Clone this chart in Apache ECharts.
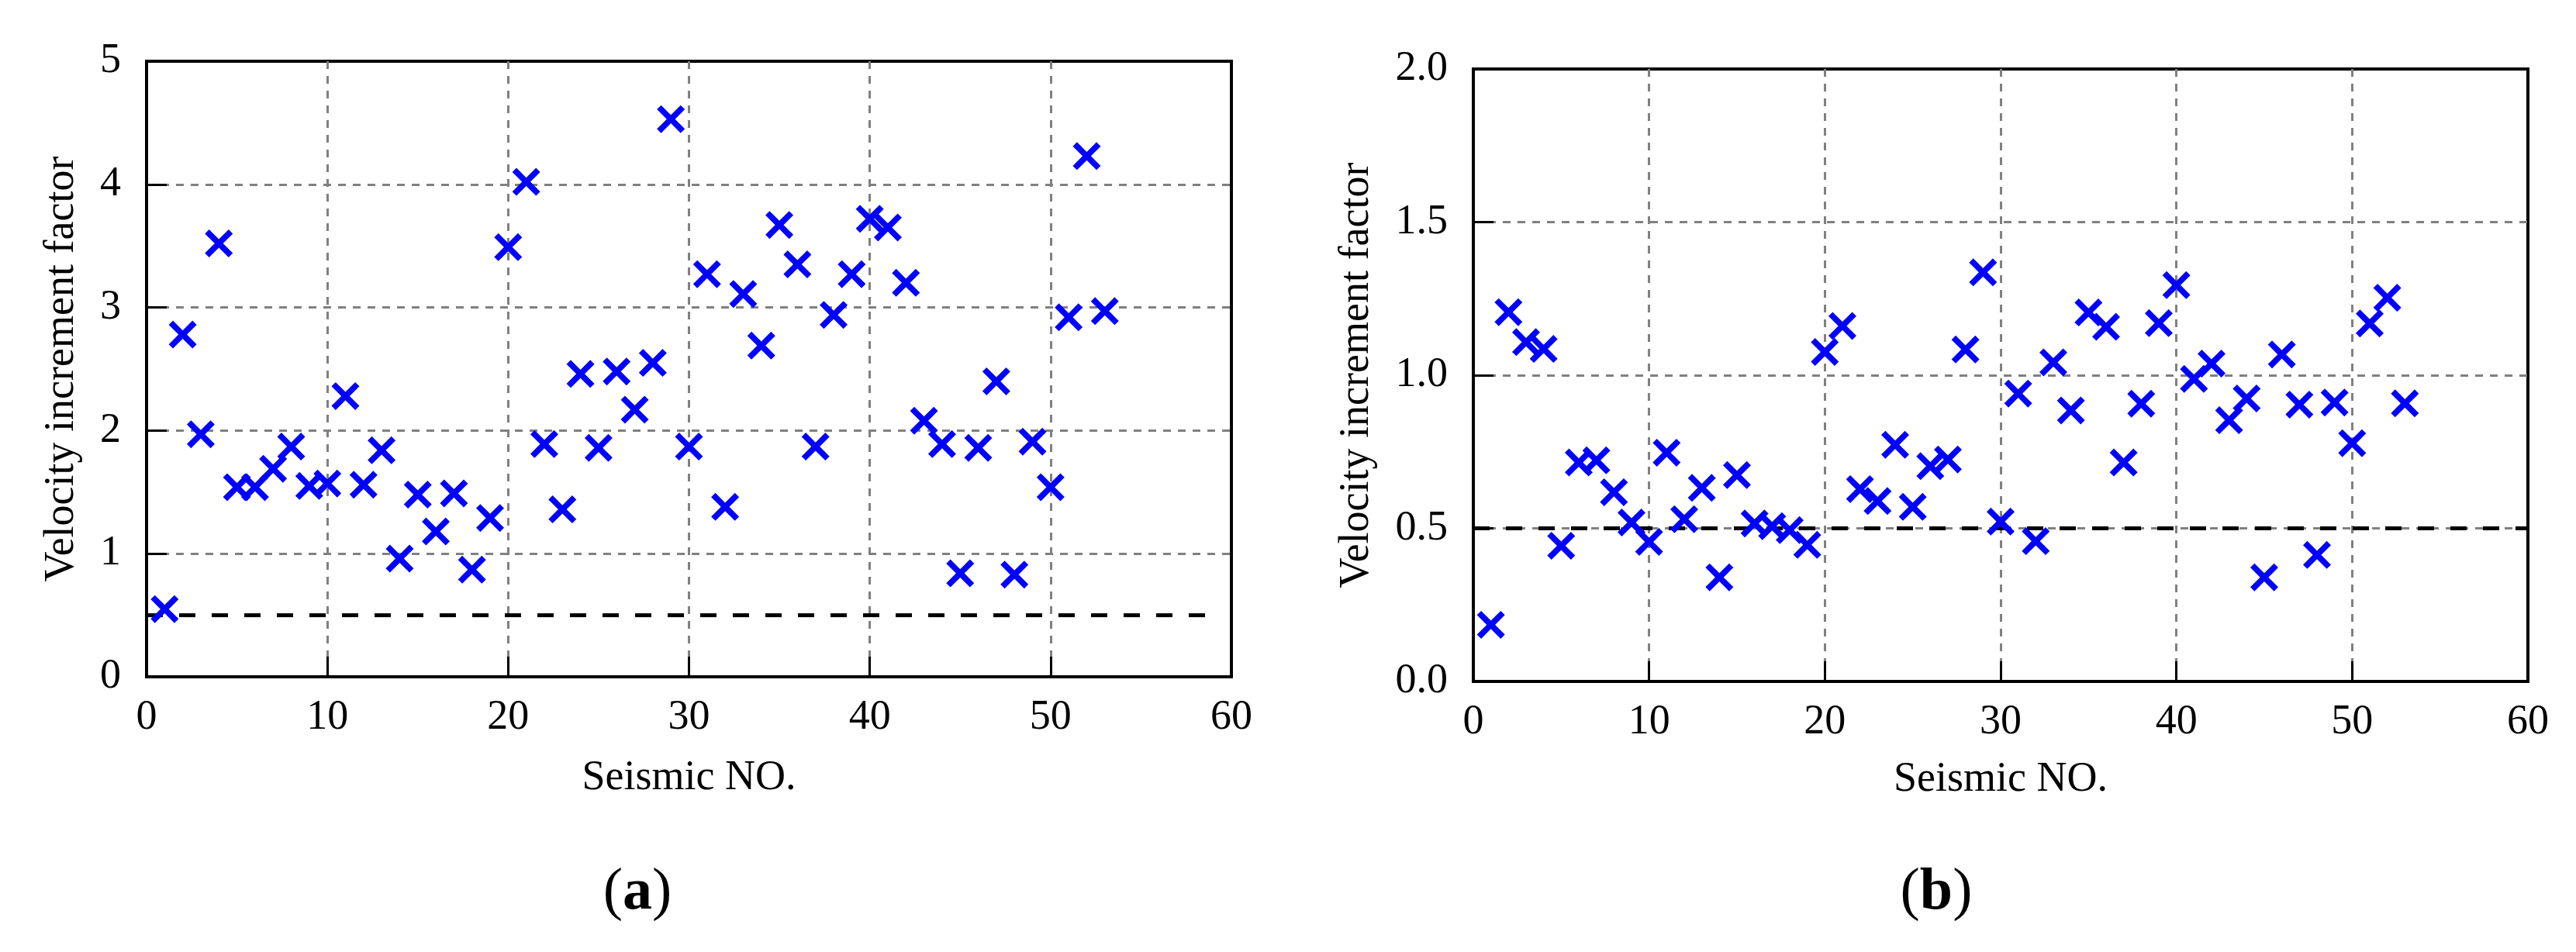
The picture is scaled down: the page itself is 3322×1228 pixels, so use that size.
<!DOCTYPE html>
<html>
<head>
<meta charset="utf-8" />
<style>
    html, body { margin: 0; padding: 0; background: #fff; }
    #chart { width: 3322px; height: 1228px; }
</style>
<script src="https://cdn.jsdelivr.net/npm/echarts@6/dist/echarts.min.js"></script>
</head>
<body>
<div id="chart"></div>
<script type="text/javascript">
    // seismic record numbers (x) and the two velocity increment factor sets (y)
    var seismicNo = [1, 2, 3, 4, 5, 6, 7, 8, 9, 10,
        11, 12, 13, 14, 15, 16, 17, 18, 19, 20,
        21, 22, 23, 24, 25, 26, 27, 28, 29, 30,
        31, 32, 33, 34, 35, 36, 37, 38, 39, 40,
        41, 42, 43, 44, 45, 46, 47, 48, 49, 50,
        51, 52, 53];
    var factorA = [0.55, 2.78, 1.97, 3.52, 1.54, 1.54, 1.69, 1.87, 1.55, 1.57,
        2.28, 1.56, 1.84, 0.96, 1.48, 1.18, 1.49, 0.87, 1.29, 3.49,
        4.02, 1.89, 1.36, 2.46, 1.86, 2.48, 2.17, 2.55, 4.53, 1.87,
        3.27, 1.38, 3.11, 2.69, 3.67, 3.35, 1.87, 2.94, 3.27, 3.72,
        3.65, 3.20, 2.08, 1.89, 0.84, 1.86, 2.40, 0.83, 1.91, 1.54,
        2.92, 4.23, 2.97];
    var factorB = [0.185, 1.206, 1.108, 1.086, 0.443, 0.715, 0.722, 0.618, 0.519, 0.456,
        0.747, 0.530, 0.632, 0.340, 0.674, 0.516, 0.507, 0.494, 0.446, 1.076,
        1.161, 0.628, 0.589, 0.773, 0.570, 0.703, 0.725, 1.084, 1.336, 0.522,
        0.940, 0.458, 1.042, 0.885, 1.205, 1.158, 0.715, 0.907, 1.170, 1.294,
        0.988, 1.038, 0.853, 0.924, 0.340, 1.068, 0.904, 0.413, 0.911, 0.778,
        1.169, 1.253, 0.908];
    // 0.5 reference line: x extent and level
    var limitA = [0, 59];
    var limitB = [0, 60];
    var limitLevel = 0.5;

    var font = "'Liberation Serif', 'Times New Roman', serif";
    var cross = 'path://M0,15 L15,0 L50,35 L85,0 L100,15 L65,50 L100,85 L85,100 L50,65 L15,100 L0,85 L35,50 Z';

    function pairs(xs, ys) {
        return xs.map(function (x, i) { return [x, ys[i]]; });
    }

    function xAxis(idx, gap) {
        return {
            type: 'value', gridIndex: idx, min: 0, max: 60, interval: 10,
            name: 'Seismic NO.', nameLocation: 'middle', nameGap: gap,
            nameTextStyle: { fontFamily: font, fontSize: 54, color: '#000' },
            axisLine: { show: true, onZero: false, lineStyle: { color: '#000', width: 4 } },
            axisTick: { show: true, inside: true, length: 26, lineStyle: { color: '#000', width: 3 } },
            axisLabel: { margin: 26, fontFamily: font, fontSize: 54, color: '#000' },
            splitLine: { show: true, showMinLine: false, showMaxLine: false,
                lineStyle: { color: '#808080', width: 3, type: [10, 9] } }
        };
    }

    function yAxis(idx, max, step, gap, fmt) {
        return {
            type: 'value', gridIndex: idx, min: 0, max: max, interval: step,
            name: 'Velocity increment factor', nameLocation: 'middle', nameGap: gap,
            nameTextStyle: { fontFamily: font, fontSize: 54, color: '#000' },
            axisLine: { show: true, onZero: false, lineStyle: { color: '#000', width: 4 } },
            axisTick: { show: true, inside: true, length: 26, lineStyle: { color: '#000', width: 3 } },
            axisLabel: { margin: 33, fontFamily: font, fontSize: 54, color: '#000', formatter: fmt },
            splitLine: { show: true, showMinLine: false, showMaxLine: false,
                lineStyle: { color: '#808080', width: 3, type: [10, 9] } }
        };
    }

    function limitLine(idx, ext) {
        return {
            type: 'line', xAxisIndex: idx, yAxisIndex: idx, silent: true, z: 2,
            symbol: 'none', animation: false,
            data: [[ext[0], limitLevel], [ext[1], limitLevel]],
            lineStyle: { color: '#000', width: 5, type: [21, 21], cap: 'butt' }
        };
    }

    function scatter(idx, ys) {
        return {
            type: 'scatter', xAxisIndex: idx, yAxisIndex: idx, z: 3, animation: false,
            symbol: cross, symbolSize: 36,
            itemStyle: { color: '#0000ff', opacity: 1 },
            data: pairs(seismicNo, ys)
        };
    }

    function panelLabel(letter, x) {
        return {
            type: 'text', x: x, y: 1152,
            style: {
                text: '{n|(}{b|' + letter + '}{n|)}',
                align: 'center', verticalAlign: 'middle',
                rich: {
                    n: { fontFamily: font, fontSize: 76, fill: '#000' },
                    b: { fontFamily: font, fontSize: 76, fontWeight: 'bold', fill: '#000' }
                }
            }
        };
    }

    var chart = echarts.init(document.getElementById('chart'), null, { renderer: 'canvas' });
    chart.setOption({
        backgroundColor: '#fff',
        animation: false,
        grid: [
            { left: 189, top: 79, right: 1734, bottom: 355, show: true, borderColor: '#000', borderWidth: 4, backgroundColor: 'transparent' },
            { left: 1900, top: 89, right: 62, bottom: 349, show: true, borderColor: '#000', borderWidth: 4, backgroundColor: 'transparent' }
        ],
        xAxis: [xAxis(0, 104), xAxis(1, 100)],
        yAxis: [
            yAxis(0, 5, 1, 82, null),
            yAxis(1, 2, 0.5, 123, function (v) { return v.toFixed(1); })
        ],
        series: [
            limitLine(0, limitA),
            scatter(0, factorA),
            limitLine(1, limitB),
            scatter(1, factorB)
        ],
        graphic: [panelLabel('a', 822), panelLabel('b', 2497)]
    });
</script>
</body>
</html>
